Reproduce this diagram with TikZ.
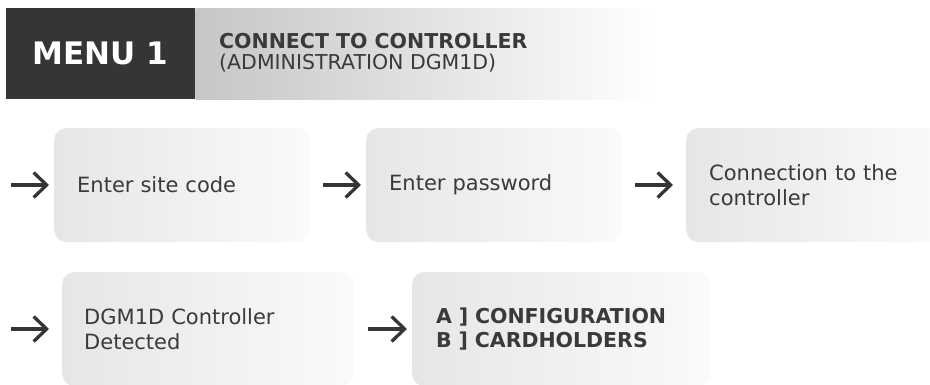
\documentclass[tikz,border=0pt]{standalone}
\usepackage{fontspec}
\setmainfont{DejaVu Sans}
\usetikzlibrary{arrows.meta}
\definecolor{dark}{HTML}{363435}
\definecolor{txt}{HTML}{3A3A3A}
\definecolor{boxl}{HTML}{E6E6E6}
\definecolor{boxr}{HTML}{FAFAFA}
\definecolor{headl}{HTML}{C6C6C6}
\begin{document}
\begin{tikzpicture}[x=1pt,y=-1pt,
  stepbox/.style={shade, left color=boxl, right color=boxr, rounded corners=12pt,
    minimum height=114pt, inner xsep=23pt, inner ysep=0pt, align=left,
    font=\fontsize{21}{24.5}\selectfont, text=txt, anchor=west},
  flow/.style={draw=dark, line width=3.3pt, -{Straight Barb[length=13pt,width=25pt]}}]
\useasboundingbox (0,0) rectangle (930,384);
\clip (0,0) rectangle (930,384);
% header
\node[fill=dark, minimum width=189pt, minimum height=91pt, inner sep=0pt, anchor=north west,
  text=white, font=\fontsize{31}{31}\selectfont\bfseries] (menu) at (6,8) {MENU 1};
\node[shade, left color=headl, right color=white, minimum width=460pt, minimum height=91pt,
  inner sep=0pt, anchor=north west] (title) at (menu.north east) {};
\node[anchor=north west, inner sep=0pt, align=left, text=txt,
  font=\fontsize{20.5}{21.5}\selectfont] (titletext) at (219,33)
  {\textbf{CONNECT TO CONTROLLER}\\(ADMINISTRATION DGM1D)};
% row 1
\coordinate (s1) at (11,185);
\node[stepbox, text width=209pt] (b1) at (54,185) {Enter site code};
\node[stepbox, text width=209pt] (b2) at (366,185) {Enter password};
\node[stepbox, text width=208pt] (b3) at (686,185) {Connection to the\\controller};
% row 2
\coordinate (s2) at (11,329);
\node[stepbox, inner xsep=22pt, text width=247pt] (b4) at (62,329) {DGM1D Controller\\Detected};
\node[stepbox, inner xsep=24pt, text width=250pt,
  font=\fontsize{20.5}{24.5}\selectfont\bfseries] (b5) at (412,329) {A ] CONFIGURATION\\B ] CARDHOLDERS};
% connectors
\draw[flow, shorten >=5pt] (s1) -- (b1.west);
\draw[flow, shorten <=14pt, shorten >=5pt] (b1.east) -- (b2.west);
\draw[flow, shorten <=14pt, shorten >=13pt] (b2.east) -- (b3.west);
\draw[flow, shorten >=13pt] (s2) -- (b4.west);
\draw[flow, shorten <=15pt, shorten >=5pt] (b4.east) -- (b5.west);
\end{tikzpicture}
\end{document}
